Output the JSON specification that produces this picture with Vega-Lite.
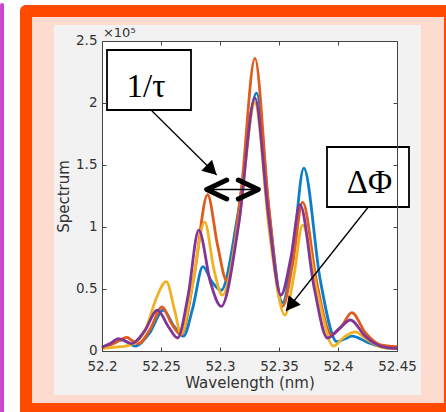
{
"$schema": "https://vega.github.io/schema/vega-lite/v6.json",
"width": 295, "height": 310,
"autosize": {"type": "none"},
"padding": {"left": 102, "top": 41, "right": 49, "bottom": 61},
"background": "white",
"config": {"view": {"stroke": null}},
"datasets": {"spec": [
{"series":"A","wavelength":52.200,"spectrum":0.03},{"series":"A","wavelength":52.209,"spectrum":0.06},{"series":"A","wavelength":52.217,"spectrum":0.09},{"series":"A","wavelength":52.223,"spectrum":0.06},{"series":"A","wavelength":52.228,"spectrum":0.04},{"series":"A","wavelength":52.240,"spectrum":0.14},{"series":"A","wavelength":52.252,"spectrum":0.33},{"series":"A","wavelength":52.261,"spectrum":0.20},{"series":"A","wavelength":52.269,"spectrum":0.12},{"series":"A","wavelength":52.277,"spectrum":0.35},{"series":"A","wavelength":52.2855,"spectrum":0.68},{"series":"A","wavelength":52.293,"spectrum":0.56},{"series":"A","wavelength":52.301,"spectrum":0.49},{"series":"A","wavelength":52.316,"spectrum":1.15},{"series":"A","wavelength":52.331,"spectrum":2.08},{"series":"A","wavelength":52.342,"spectrum":1.08},{"series":"A","wavelength":52.353,"spectrum":0.39},{"series":"A","wavelength":52.362,"spectrum":0.82},{"series":"A","wavelength":52.371,"spectrum":1.475},{"series":"A","wavelength":52.385,"spectrum":0.57},{"series":"A","wavelength":52.399,"spectrum":0.075},{"series":"A","wavelength":52.406,"spectrum":0.10},{"series":"A","wavelength":52.412,"spectrum":0.12},{"series":"A","wavelength":52.425,"spectrum":0.07},{"series":"A","wavelength":52.438,"spectrum":0.03},{"series":"A","wavelength":52.450,"spectrum":0.02},
{"series":"B","wavelength":52.200,"spectrum":0.02},{"series":"B","wavelength":52.210,"spectrum":0.06},{"series":"B","wavelength":52.221,"spectrum":0.11},{"series":"B","wavelength":52.226,"spectrum":0.08},{"series":"B","wavelength":52.231,"spectrum":0.06},{"series":"B","wavelength":52.241,"spectrum":0.18},{"series":"B","wavelength":52.251,"spectrum":0.355},{"series":"B","wavelength":52.259,"spectrum":0.22},{"series":"B","wavelength":52.267,"spectrum":0.13},{"series":"B","wavelength":52.278,"spectrum":0.60},{"series":"B","wavelength":52.2895,"spectrum":1.26},{"series":"B","wavelength":52.298,"spectrum":0.85},{"series":"B","wavelength":52.3056,"spectrum":0.57},{"series":"B","wavelength":52.318,"spectrum":1.30},{"series":"B","wavelength":52.3296,"spectrum":2.36},{"series":"B","wavelength":52.341,"spectrum":1.20},{"series":"B","wavelength":52.353,"spectrum":0.36},{"series":"B","wavelength":52.3615,"spectrum":0.70},{"series":"B","wavelength":52.370,"spectrum":1.20},{"series":"B","wavelength":52.382,"spectrum":0.55},{"series":"B","wavelength":52.3945,"spectrum":0.13},{"series":"B","wavelength":52.403,"spectrum":0.20},{"series":"B","wavelength":52.4117,"spectrum":0.31},{"series":"B","wavelength":52.423,"spectrum":0.15},{"series":"B","wavelength":52.436,"spectrum":0.05},{"series":"B","wavelength":52.450,"spectrum":0.035},
{"series":"C","wavelength":52.200,"spectrum":0.02},{"series":"C","wavelength":52.210,"spectrum":0.03},{"series":"C","wavelength":52.220,"spectrum":0.04},{"series":"C","wavelength":52.230,"spectrum":0.08},{"series":"C","wavelength":52.238,"spectrum":0.20},{"series":"C","wavelength":52.245,"spectrum":0.40},{"series":"C","wavelength":52.2545,"spectrum":0.56},{"series":"C","wavelength":52.2615,"spectrum":0.33},{"series":"C","wavelength":52.267,"spectrum":0.14},{"series":"C","wavelength":52.276,"spectrum":0.50},{"series":"C","wavelength":52.287,"spectrum":1.04},{"series":"C","wavelength":52.295,"spectrum":0.65},{"series":"C","wavelength":52.302,"spectrum":0.45},{"series":"C","wavelength":52.316,"spectrum":1.05},{"series":"C","wavelength":52.3296,"spectrum":2.00},{"series":"C","wavelength":52.342,"spectrum":0.95},{"series":"C","wavelength":52.355,"spectrum":0.29},{"series":"C","wavelength":52.3625,"spectrum":0.60},{"series":"C","wavelength":52.370,"spectrum":1.015},{"series":"C","wavelength":52.383,"spectrum":0.45},{"series":"C","wavelength":52.396,"spectrum":0.04},{"series":"C","wavelength":52.405,"spectrum":0.11},{"series":"C","wavelength":52.4144,"spectrum":0.155},{"series":"C","wavelength":52.425,"spectrum":0.09},{"series":"C","wavelength":52.437,"spectrum":0.03},{"series":"C","wavelength":52.450,"spectrum":0.02},
{"series":"D","wavelength":52.200,"spectrum":0.03},{"series":"D","wavelength":52.207,"spectrum":0.06},{"series":"D","wavelength":52.214,"spectrum":0.10},{"series":"D","wavelength":52.220,"spectrum":0.08},{"series":"D","wavelength":52.225,"spectrum":0.06},{"series":"D","wavelength":52.236,"spectrum":0.16},{"series":"D","wavelength":52.247,"spectrum":0.33},{"series":"D","wavelength":52.256,"spectrum":0.20},{"series":"D","wavelength":52.264,"spectrum":0.105},{"series":"D","wavelength":52.273,"spectrum":0.45},{"series":"D","wavelength":52.282,"spectrum":0.975},{"series":"D","wavelength":52.292,"spectrum":0.55},{"series":"D","wavelength":52.301,"spectrum":0.36},{"series":"D","wavelength":52.316,"spectrum":1.03},{"series":"D","wavelength":52.3296,"spectrum":2.04},{"series":"D","wavelength":52.341,"spectrum":1.10},{"series":"D","wavelength":52.3516,"spectrum":0.45},{"series":"D","wavelength":52.360,"spectrum":0.75},{"series":"D","wavelength":52.3678,"spectrum":1.18},{"series":"D","wavelength":52.380,"spectrum":0.50},{"series":"D","wavelength":52.391,"spectrum":0.105},{"series":"D","wavelength":52.401,"spectrum":0.18},{"series":"D","wavelength":52.4105,"spectrum":0.25},{"series":"D","wavelength":52.423,"spectrum":0.12},{"series":"D","wavelength":52.436,"spectrum":0.04},{"series":"D","wavelength":52.450,"spectrum":0.02}
]},
"resolve": {"axis": {"x": "independent", "y": "independent"}},
"layer": [
{"data": {"values": [{}]}, "mark": {"type": "rect", "fill": "#c944d0", "cornerRadius": 3},
 "encoding": {"x": {"datum": 52.1136, "type": "quantitative", "scale": {"domain": [52.2, 52.45], "nice": false, "zero": false}, "axis": null}, "x2": {"datum": 52.11695},
  "y": {"datum": 2.8065, "type": "quantitative", "scale": {"domain": [0, 2.5], "nice": false, "zero": false}, "axis": null}, "y2": {"datum": -0.6}}},
{"data": {"values": [{}]}, "mark": {"type": "rect", "fill": "#ff4a00", "cornerRadius": 6},
 "encoding": {"x": {"datum": 52.130508, "type": "quantitative", "scale": {"domain": [52.2, 52.45], "nice": false, "zero": false}, "axis": null}, "x2": {"datum": 52.55},
  "y": {"datum": 2.790323, "type": "quantitative", "scale": {"domain": [0, 2.5], "nice": false, "zero": false}, "axis": null}, "y2": {"datum": -0.6}}},
{"data": {"values": [{}]}, "mark": {"type": "rect", "fill": "#fddccf"},
 "encoding": {"x": {"datum": 52.140678, "type": "quantitative", "scale": {"domain": [52.2, 52.45], "nice": false, "zero": false}, "axis": null}, "x2": {"datum": 52.489831},
  "y": {"datum": 2.693548, "type": "quantitative", "scale": {"domain": [0, 2.5], "nice": false, "zero": false}, "axis": null}, "y2": {"datum": -0.419355}}},
{"data": {"values": [{}]}, "mark": {"type": "rect", "fill": "#f2f2f2"},
 "encoding": {"x": {"datum": 52.159322, "type": "quantitative", "scale": {"domain": [52.2, 52.45], "nice": false, "zero": false}, "axis": null}, "x2": {"datum": 52.470339},
  "y": {"datum": 2.629032, "type": "quantitative", "scale": {"domain": [0, 2.5], "nice": false, "zero": false}, "axis": null}, "y2": {"datum": -0.354839}}},
{"data": {"values": [{}]}, "mark": {"type": "rect", "fill": "white"},
 "encoding": {"x": {"datum": 52.2, "type": "quantitative", "scale": {"domain": [52.2, 52.45], "nice": false, "zero": false},
   "axis": {"orient": "top", "values": [52.2, 52.25, 52.3, 52.35, 52.4, 52.45], "labels": false, "title": null, "tickSize": -4, "domainColor": "#444", "tickColor": "#444", "grid": false, "zindex": 1}}, "x2": {"datum": 52.45},
  "y": {"datum": 0, "type": "quantitative", "scale": {"domain": [0, 2.5], "nice": false, "zero": false},
   "axis": {"orient": "right", "values": [0, 0.5, 1, 1.5, 2, 2.5], "labels": false, "title": null, "tickSize": -4, "domainColor": "#444", "tickColor": "#444", "grid": false, "zindex": 1}}, "y2": {"datum": 2.5}}},
{"data": {"name": "spec"}, "mark": {"type": "line", "interpolate": "monotone", "strokeWidth": 2.8},
 "encoding": {
  "x": {"field": "wavelength", "type": "quantitative", "scale": {"domain": [52.2, 52.45], "nice": false, "zero": false},
   "axis": {"orient": "bottom", "values": [52.2, 52.25, 52.3, 52.35, 52.4, 52.45], "format": "~g", "title": "Wavelength (nm)", "tickSize": -4, "labelPadding": 12, "zindex": 1, "grid": false, "domainColor": "#444", "tickColor": "#444", "labelColor": "#333", "titleColor": "#333", "labelFont": "DejaVu Sans", "labelFontSize": 13.5, "titleFont": "DejaVu Sans", "titleFontSize": 15, "titleFontWeight": "normal", "titleBaseline": "middle", "titleY": 31, "labelFlush": false, "labelOverlap": false}},
  "y": {"field": "spectrum", "type": "quantitative", "scale": {"domain": [0, 2.5], "nice": false, "zero": false},
   "axis": {"orient": "left", "values": [0, 0.5, 1, 1.5, 2, 2.5], "format": "~g", "title": "Spectrum", "tickSize": -4, "labelPadding": 9, "labelOffset": -1, "zindex": 1, "grid": false, "domainColor": "#444", "tickColor": "#444", "labelColor": "#333", "titleColor": "#333", "labelFont": "DejaVu Sans", "labelFontSize": 13.5, "titleFont": "DejaVu Sans", "titleFontSize": 15, "titleFontWeight": "normal", "titleBaseline": "middle", "titleX": -39, "titleY": 155, "labelFlush": false, "labelOverlap": false}},
  "color": {"field": "series", "type": "nominal", "scale": {"domain": ["A", "B", "C", "D"], "range": ["#0a7fc8", "#df5c1c", "#f0b222", "#833596"]}, "legend": null}}},
{"data": {"values": [{}]}, "mark": {"type": "text", "text": "×10⁵", "align": "left", "baseline": "alphabetic", "font": "DejaVu Sans", "fontSize": 13, "fill": "#333"},
 "encoding": {"x": {"datum": 52.2008, "type": "quantitative", "scale": {"domain": [52.2, 52.45], "nice": false, "zero": false}, "axis": null},
  "y": {"datum": 2.532, "type": "quantitative", "scale": {"domain": [0, 2.5], "nice": false, "zero": false}, "axis": null}}},
{"data": {"values": [{}]}, "mark": {"type": "rect", "fill": "white", "stroke": "black", "strokeWidth": 1.8},
 "encoding": {"x": {"datum": 52.20424, "type": "quantitative", "scale": {"domain": [52.2, 52.45], "nice": false, "zero": false}, "axis": null}, "x2": {"datum": 52.275424},
  "y": {"datum": 2.4274, "type": "quantitative", "scale": {"domain": [0, 2.5], "nice": false, "zero": false}, "axis": null}, "y2": {"datum": 1.9435}}},
{"data": {"values": [{}]}, "mark": {"type": "text", "text": "1/τ", "align": "center", "baseline": "alphabetic", "font": "Liberation Serif", "fontSize": 33, "fill": "black"},
 "encoding": {"x": {"datum": 52.23729, "type": "quantitative", "scale": {"domain": [52.2, 52.45], "nice": false, "zero": false}, "axis": null},
  "y": {"datum": 2.0484, "type": "quantitative", "scale": {"domain": [0, 2.5], "nice": false, "zero": false}, "axis": null}}},
{"data": {"values": [{}]}, "mark": {"type": "rect", "fill": "white", "stroke": "black", "strokeWidth": 1.8},
 "encoding": {"x": {"datum": 52.390678, "type": "quantitative", "scale": {"domain": [52.2, 52.45], "nice": false, "zero": false}, "axis": null}, "x2": {"datum": 52.460169},
  "y": {"datum": 1.64516, "type": "quantitative", "scale": {"domain": [0, 2.5], "nice": false, "zero": false}, "axis": null}, "y2": {"datum": 1.16129}}},
{"data": {"values": [{}]}, "mark": {"type": "text", "text": "ΔΦ", "align": "center", "baseline": "alphabetic", "font": "Liberation Serif", "fontSize": 33, "fill": "black"},
 "encoding": {"x": {"datum": 52.42669, "type": "quantitative", "scale": {"domain": [52.2, 52.45], "nice": false, "zero": false}, "axis": null},
  "y": {"datum": 1.2718, "type": "quantitative", "scale": {"domain": [0, 2.5], "nice": false, "zero": false}, "axis": null}}},
{"data": {"values": [{}]}, "mark": {"type": "rule", "stroke": "black", "strokeWidth": 1.3},
 "encoding": {"x": {"datum": 52.24153, "type": "quantitative", "scale": {"domain": [52.2, 52.45], "nice": false, "zero": false}, "axis": null}, "x2": {"datum": 52.2972},
  "y": {"datum": 1.9435, "type": "quantitative", "scale": {"domain": [0, 2.5], "nice": false, "zero": false}, "axis": null}, "y2": {"datum": 1.41935}}},
{"data": {"values": [{}]}, "mark": {"type": "point", "shape": "M0,0 L0.55,1 L-0.55,1 Z", "filled": true, "fill": "black", "opacity": 1, "strokeWidth": 0, "size": 784, "angle": 134.3},
 "encoding": {"x": {"datum": 52.2972, "type": "quantitative", "scale": {"domain": [52.2, 52.45], "nice": false, "zero": false}, "axis": null},
  "y": {"datum": 1.41935, "type": "quantitative", "scale": {"domain": [0, 2.5], "nice": false, "zero": false}, "axis": null}}},
{"data": {"values": [{}]}, "mark": {"type": "rule", "stroke": "black", "strokeWidth": 1.3},
 "encoding": {"x": {"datum": 52.42568, "type": "quantitative", "scale": {"domain": [52.2, 52.45], "nice": false, "zero": false}, "axis": null}, "x2": {"datum": 52.35593},
  "y": {"datum": 1.16129, "type": "quantitative", "scale": {"domain": [0, 2.5], "nice": false, "zero": false}, "axis": null}, "y2": {"datum": 0.32258}}},
{"data": {"values": [{}]}, "mark": {"type": "point", "shape": "M0,0 L0.55,1 L-0.55,1 Z", "filled": true, "fill": "black", "opacity": 1, "strokeWidth": 0, "size": 784, "angle": 218.4},
 "encoding": {"x": {"datum": 52.35593, "type": "quantitative", "scale": {"domain": [52.2, 52.45], "nice": false, "zero": false}, "axis": null},
  "y": {"datum": 0.32258, "type": "quantitative", "scale": {"domain": [0, 2.5], "nice": false, "zero": false}, "axis": null}}},
{"data": {"values": [{}]}, "mark": {"type": "rule", "stroke": "black", "strokeWidth": 1.5},
 "encoding": {"x": {"datum": 52.28873, "type": "quantitative", "scale": {"domain": [52.2, 52.45], "nice": false, "zero": false}, "axis": null}, "x2": {"datum": 52.33246},
  "y": {"datum": 1.30242, "type": "quantitative", "scale": {"domain": [0, 2.5], "nice": false, "zero": false}, "axis": null}}},
{"data": {"values": [{}]}, "mark": {"type": "point", "shape": "M1,-0.475 L0,0 L1,0.475", "filled": false, "stroke": "black", "opacity": 1, "strokeWidth": 5, "strokeCap": "round", "strokeJoin": "round", "size": 1600},
 "encoding": {"x": {"datum": 52.28873, "type": "quantitative", "scale": {"domain": [52.2, 52.45], "nice": false, "zero": false}, "axis": null},
  "y": {"datum": 1.30242, "type": "quantitative", "scale": {"domain": [0, 2.5], "nice": false, "zero": false}, "axis": null}}},
{"data": {"values": [{}]}, "mark": {"type": "point", "shape": "M-1,-0.475 L0,0 L-1,0.475", "filled": false, "stroke": "black", "opacity": 1, "strokeWidth": 5, "strokeCap": "round", "strokeJoin": "round", "size": 1600},
 "encoding": {"x": {"datum": 52.33246, "type": "quantitative", "scale": {"domain": [52.2, 52.45], "nice": false, "zero": false}, "axis": null},
  "y": {"datum": 1.30242, "type": "quantitative", "scale": {"domain": [0, 2.5], "nice": false, "zero": false}, "axis": null}}}
]
}
